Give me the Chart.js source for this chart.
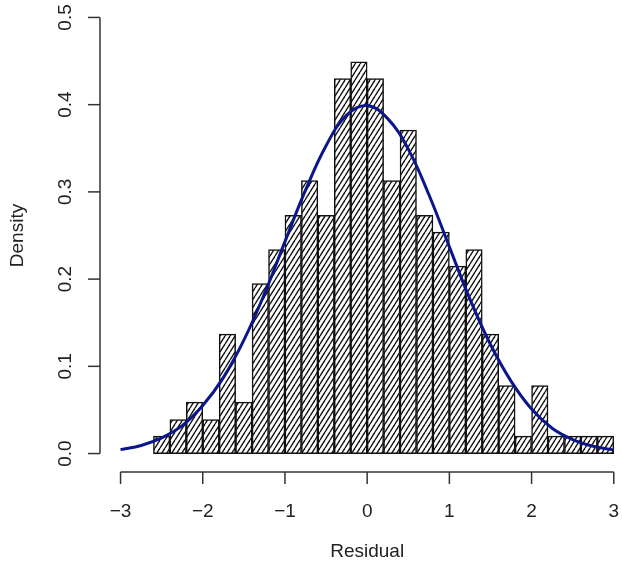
<!DOCTYPE html>
<html lang="en">
<head>
    <meta charset="UTF-8">
    <title>Residual Histogram</title>
    <script src="https://cdn.jsdelivr.net/npm/chart.js"></script>
    <style>
        body { margin: 0; background: #fff; }
        .chart-container { width: 622px; height: 575px; position: relative; }
    </style>
</head>
<body>
    <div class="chart-container"><canvas id="chart"></canvas></div>

    <script>
    // histogram bins (centres, width 0.2) and densities
    const binCenters = [-2.5, -2.3, -2.1, -1.9, -1.7, -1.5, -1.3, -1.1, -0.9, -0.7, -0.5, -0.3, -0.1,
                        0.1, 0.3, 0.5, 0.7, 0.9, 1.1, 1.3, 1.5, 1.7, 1.9, 2.1, 2.3, 2.5, 2.7, 2.9];
    const densities = [0.020, 0.039, 0.059, 0.039, 0.137, 0.059, 0.195, 0.234, 0.273, 0.313, 0.273, 0.430, 0.449,
                       0.430, 0.313, 0.371, 0.273, 0.254, 0.215, 0.234, 0.137, 0.078, 0.020, 0.078, 0.020, 0.020, 0.020, 0.020];

    const curveX = [-3, -2.75, -2.5, -2.25, -2, -1.75, -1.5, -1.25, -1, -0.75, -0.5, -0.25, 0,
                    0.25, 0.5, 0.75, 1, 1.25, 1.5, 1.75, 2, 2.25, 2.5, 2.75, 3];
    const curveY = [0.0045, 0.0093, 0.018, 0.032, 0.055, 0.087, 0.130, 0.183, 0.243, 0.302, 0.353, 0.388, 0.399,
                    0.384, 0.349, 0.297, 0.237, 0.177, 0.125, 0.083, 0.051, 0.029, 0.016, 0.0083, 0.0042];

    const xTicks = [-3, -2, -1, 0, 1, 2, 3];
    const yTicks = [0, 0.1, 0.2, 0.3, 0.4, 0.5];

    const FONT = '19px "Liberation Sans", Arial, sans-serif';

    function hatchPattern() {
        const w = 5, h = 8;
        const c = document.createElement('canvas');
        c.width = w; c.height = h;
        const g = c.getContext('2d');
        g.fillStyle = '#fff';
        g.fillRect(0, 0, w, h);
        g.strokeStyle = '#111';
        g.lineWidth = 1.4;
        for (const dx of [-w, 0, w]) {
            g.beginPath();
            g.moveTo(dx, h);
            g.lineTo(dx + w, 0);
            g.stroke();
        }
        return document.getElementById('chart').getContext('2d').createPattern(c, 'repeat');
    }

    // R style detached axes
    const rAxes = {
        id: 'rAxes',
        afterDraw(chart) {
            const ctx = chart.ctx;
            const xs = chart.scales.x, ys = chart.scales.y;
            const area = chart.chartArea;
            ctx.save();
            ctx.strokeStyle = '#333';
            ctx.lineWidth = 1.5;
            ctx.fillStyle = '#222';
            ctx.font = FONT;

            // y axis
            const ax = area.left;
            ctx.beginPath();
            ctx.moveTo(ax, ys.getPixelForValue(0));
            ctx.lineTo(ax, ys.getPixelForValue(0.5));
            ctx.stroke();
            yTicks.forEach(v => {
                const py = ys.getPixelForValue(v);
                ctx.beginPath();
                ctx.moveTo(ax - 12, py);
                ctx.lineTo(ax, py);
                ctx.stroke();
                ctx.save();
                ctx.translate(66, py);
                ctx.rotate(-Math.PI / 2);
                ctx.textAlign = 'center';
                ctx.textBaseline = 'middle';
                ctx.fillText(v.toFixed(1), 0, 0);
                ctx.restore();
            });

            // x axis
            const ay = area.bottom + 1;
            ctx.beginPath();
            ctx.moveTo(xs.getPixelForValue(-3), ay);
            ctx.lineTo(xs.getPixelForValue(3), ay);
            ctx.stroke();
            ctx.textAlign = 'center';
            ctx.textBaseline = 'middle';
            xTicks.forEach(v => {
                const px = xs.getPixelForValue(v);
                ctx.beginPath();
                ctx.moveTo(px, ay);
                ctx.lineTo(px, ay + 12);
                ctx.stroke();
                ctx.fillText(v < 0 ? '\u2212' + Math.abs(v) : String(v), px, 512);
            });

            // axis titles
            ctx.fillText('Residual', xs.getPixelForValue(0), 552);
            ctx.save();
            ctx.translate(18, (area.top + area.bottom) / 2);
            ctx.rotate(-Math.PI / 2);
            ctx.fillText('Density', 0, 0);
            ctx.restore();
            ctx.restore();
        }
    };

    new Chart(document.getElementById('chart'), {
        type: 'bar',
        data: {
            datasets: [
                {
                    type: 'line',
                    data: curveX.map((x, i) => ({ x: x, y: curveY[i] })),
                    borderColor: '#0c168a',
                    borderWidth: 3,
                    pointRadius: 0,
                    tension: 0.4,
                    fill: false,
                    order: 0
                },
                {
                    type: 'bar',
                    data: binCenters.map((x, i) => ({ x: x, y: densities[i] })),
                    backgroundColor: hatchPattern(),
                    borderColor: '#111',
                    borderWidth: 1.5,
                    borderSkipped: false,
                    barPercentage: 1,
                    categoryPercentage: 1,
                    order: 1
                }
            ]
        },
        options: {
            responsive: true,
            maintainAspectRatio: false,
            animation: false,
            layout: { padding: { left: 100, right: 0, top: 0, bottom: 104 } },
            plugins: { legend: { display: false }, tooltip: { enabled: false } },
            scales: {
                x: { type: 'linear', min: -3.25, max: 3.1, offset: false, display: false, ticks: { stepSize: 1 } },
                y: { min: -0.02, max: 0.52, display: false, ticks: { stepSize: 0.1 } }
            }
        },
        plugins: [rAxes]
    });
    </script>
</body>
</html>
